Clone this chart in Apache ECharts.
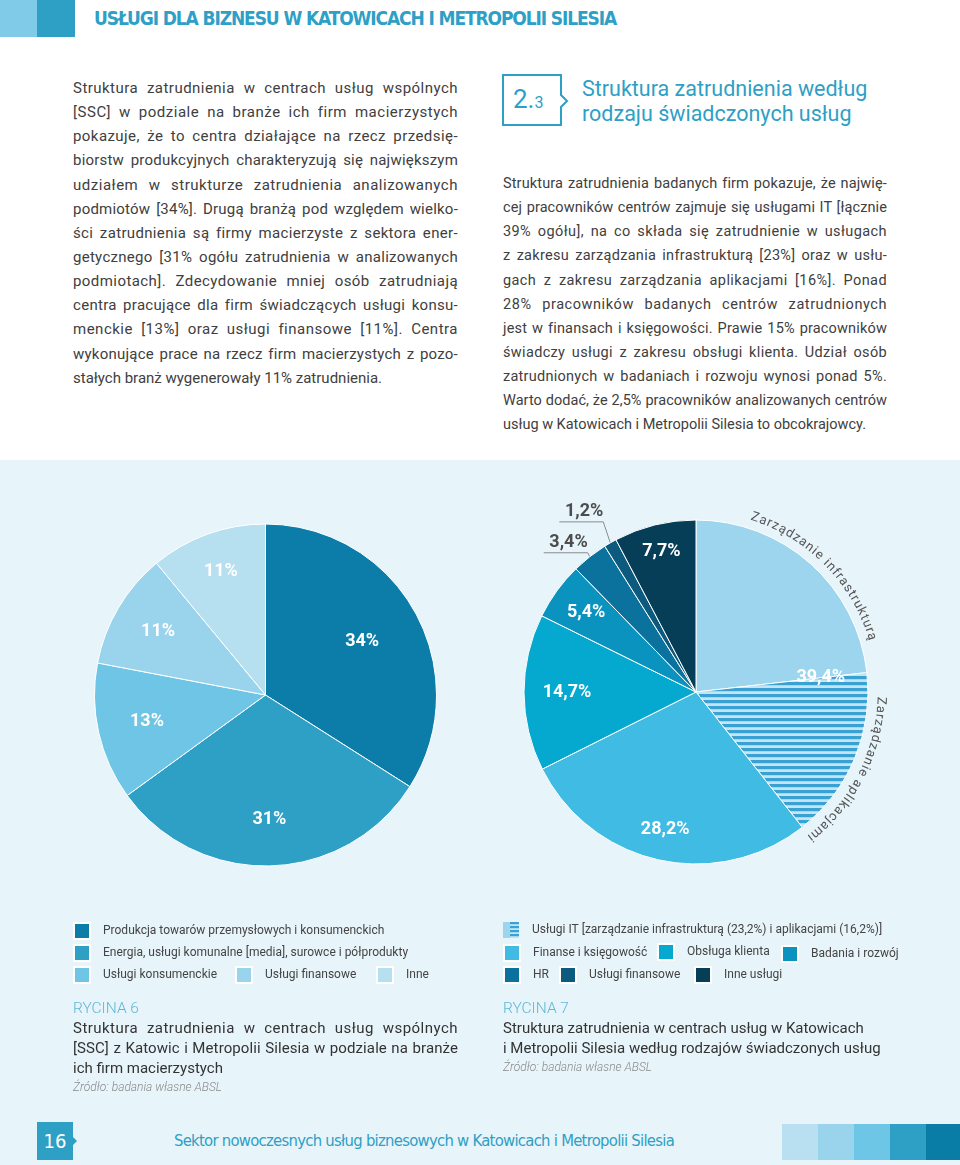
<!DOCTYPE html>
<html><head><meta charset="utf-8">
<script src="https://cdn.jsdelivr.net/npm/echarts@6/dist/echarts.min.js"></script>
<style>
html,body{margin:0;padding:0}
body{width:960px;height:1165px;position:relative;background:#fff;font-family:Roboto,sans-serif;overflow:hidden;color:#404040}
.abs{position:absolute}
#band{left:0;top:460px;width:960px;height:705px;background:#e7f4fa}
.jl{white-space:nowrap;text-align:left}
.para div{height:24.15px;line-height:24.15px}
.cap div{height:20px;line-height:20px}
</style></head>
<body>
<div id="band" class="abs"></div>
<!-- header -->
<div class="abs" style="left:0;top:0;width:37px;height:37px;background:#7fcbe8"></div>
<div class="abs" style="left:37px;top:0;width:38px;height:37px;background:#2e9fc5"></div>
<div id="hdr" class="abs" style="left:94px;top:7px;font:bold 19px 'Liberation Sans Narrow','DejaVu Sans Condensed',sans-serif;color:#2e9fc6;white-space:nowrap;line-height:22px" data-w="522">USŁUGI DLA BIZNESU W KATOWICACH I METROPOLII SILESIA</div>

<!-- left paragraph -->
<div class="abs para" style="left:73px;top:76px;width:385px;font-size:15px;">
<div class="jl">Struktura zatrudnienia w centrach usług wspólnych</div>
<div class="jl">[SSC] w podziale na branże ich firm macierzystych</div>
<div class="jl">pokazuje, że to centra działające na rzecz przedsię-</div>
<div class="jl">biorstw produkcyjnych charakteryzują się największym</div>
<div class="jl">udziałem w strukturze zatrudnienia analizowanych</div>
<div class="jl">podmiotów [34%]. Drugą branżą pod względem wielko-</div>
<div class="jl">ści zatrudnienia są firmy macierzyste z sektora ener-</div>
<div class="jl">getycznego [31% ogółu zatrudnienia w analizowanych</div>
<div class="jl">podmiotach]. Zdecydowanie mniej osób zatrudniają</div>
<div class="jl">centra pracujące dla firm świadczących usługi konsu-</div>
<div class="jl">menckie [13%] oraz usługi finansowe [11%]. Centra</div>
<div class="jl">wykonujące prace na rzecz firm macierzystych z pozo-</div>
<div class="jl last">stałych branż wygenerowały 11% zatrudnienia.</div>
</div>

<!-- right heading -->
<svg class="abs" style="left:500px;top:72px" width="75" height="58">
<polygon points="3,3 61,3 61,23 67,29 61,35 61,53 3,53" fill="none" stroke="#2e9fc5" stroke-width="2"/>
</svg>
<div class="abs" style="left:513px;top:84px;color:#2e9fc5;white-space:nowrap;line-height:30px"><span style="font-size:26px">2.</span><span style="font-size:16px">3</span></div>
<div class="abs" style="left:582px;top:77px;color:#2e9fc5;font-size:21.5px;line-height:24.5px;white-space:nowrap">Struktura zatrudnienia według<br>rodzaju świadczonych usług</div>

<!-- right paragraph -->
<div class="abs para" style="left:503px;top:172px;width:384px;font-size:14.5px;">
<div class="jl">Struktura zatrudnienia badanych firm pokazuje, że najwię-</div>
<div class="jl">cej pracowników centrów zajmuje się usługami IT [łącznie</div>
<div class="jl">39% ogółu], na co składa się zatrudnienie w usługach</div>
<div class="jl">z zakresu zarządzania infrastrukturą [23%] oraz w usłu-</div>
<div class="jl">gach z zakresu zarządzania aplikacjami [16%]. Ponad</div>
<div class="jl">28% pracowników badanych centrów zatrudnionych</div>
<div class="jl">jest w finansach i księgowości. Prawie 15% pracowników</div>
<div class="jl">świadczy usługi z zakresu obsługi klienta. Udział osób</div>
<div class="jl">zatrudnionych w badaniach i rozwoju wynosi ponad 5%.</div>
<div class="jl">Warto dodać, że 2,5% pracowników analizowanych centrów</div>
<div class="jl last">usług w Katowicach i Metropolii Silesia to obcokrajowcy.</div>
</div>

<div id="chartL" class="abs" style="left:0;top:460px;width:480px;height:640px"></div>
<div id="chartR" class="abs" style="left:480px;top:460px;width:480px;height:640px"></div>

<!-- captions -->
<div class="abs" style="left:73px;top:998px;color:#5db8d8;font-size:15.5px;font-weight:300;line-height:20px">RYCINA 6</div>
<div class="abs cap" style="left:73px;top:1018px;width:385px;font-size:15px;color:#333">
<div class="jl">Struktura zatrudnienia w centrach usług wspólnych</div>
<div class="jl">[SSC] z Katowic i Metropolii Silesia w podziale na branże</div>
<div class="jl last">ich firm macierzystych</div>
</div>
<div class="abs" style="left:73px;top:1079px;color:#8a8a8a;font-size:12px;font-style:italic;font-weight:300;line-height:16px">Źródło: badania własne ABSL</div>

<div class="abs" style="left:503px;top:998px;color:#5db8d8;font-size:15.5px;font-weight:300;line-height:20px">RYCINA 7</div>
<div class="abs" style="left:503px;top:1018px;font-size:15px;color:#333;line-height:20px;white-space:nowrap">Struktura zatrudnienia w centrach usług w Katowicach<br>i Metropolii Silesia według rodzajów świadczonych usług</div>
<div class="abs" style="left:503px;top:1059px;color:#8a8a8a;font-size:12px;font-style:italic;font-weight:300;line-height:16px">Źródło: badania własne ABSL</div>

<!-- footer -->
<svg class="abs" style="left:37px;top:1122px" width="44" height="40">
<polygon points="0,0 36,0 36,15 40,19 36,23 36,38 0,38" fill="#2e9fc5"/>
</svg>
<div class="abs" style="left:37px;top:1128px;width:36px;text-align:center;color:#fff;font:20px 'Liberation Sans Narrow','DejaVu Sans Condensed',sans-serif;line-height:26px">16</div>
<div id="ftr" class="abs" style="left:174px;top:1130px;color:#2e9fc5;font:16.5px 'Liberation Sans Narrow','DejaVu Sans Condensed',sans-serif;white-space:nowrap;line-height:22px" data-w="500">Sektor nowoczesnych usług biznesowych w Katowicach i Metropolii Silesia</div>
<div class="abs" style="left:782px;top:1124px;width:36px;height:36px;background:#b8e0f0"></div>
<div class="abs" style="left:818px;top:1124px;width:36px;height:36px;background:#9ad4ec"></div>
<div class="abs" style="left:854px;top:1124px;width:36px;height:36px;background:#6ec6e6"></div>
<div class="abs" style="left:890px;top:1124px;width:36px;height:36px;background:#2e9fc5"></div>
<div class="abs" style="left:926px;top:1124px;width:34px;height:36px;background:#0a7da6"></div>

<script>
// ---------------- DATA ----------------
const namesL = ['Produkcja towarów przemysłowych i konsumenckich', 'Energia, usługi komunalne [media], surowce i półprodukty', 'Usługi konsumenckie', 'Usługi finansowe', 'Inne'];
const valuesL = [34, 31, 13, 11, 11];

const namesR = ['Zarządzanie infrastrukturą', 'Zarządzanie aplikacjami', 'Finanse i księgowość', 'Obsługa klienta', 'Badania i rozwój', 'HR', 'Usługi finansowe', 'Inne usługi'];
const valuesR = [23.2, 16.2, 28.2, 14.7, 5.4, 3.4, 1.2, 7.7];
const itLegendLabel = 'Usługi IT';

// ---------------- STYLE ----------------
const colorsL = ['#0b7da8', '#2e9fc5', '#6fc5e5', '#9ad3ec', '#b6dff0'];
const colorsR = ['#9dd5ee', null, '#40bbe4', '#05a8cf', '#0b93bf', '#0a729c', '#0c5b7f', '#063d57'];

function fmt(v){ return String(v).replace('.', ','); }

// text fitting
function fitLines(){
  document.querySelectorAll('.jl').forEach(el=>{
    const W = el.parentNode.clientWidth;
    const sp = document.createElement('span');
    sp.textContent = el.textContent; sp.style.whiteSpace = 'nowrap';
    el.textContent = ''; el.appendChild(sp);
    const w = sp.getBoundingClientRect().width;
    const n = sp.textContent.length;
    if (w > W) { el.style.letterSpacing = ((W - w) / n) + 'px'; }
    else if (!el.classList.contains('last')) {
      const ls = Math.min(0.5 * (W - w) / n, 0.9);
      el.style.letterSpacing = ls + 'px';
      el.style.textAlign = 'justify'; el.style.textAlignLast = 'justify'; el.style.whiteSpace = 'normal';
    }
  });
  ['hdr','ftr'].forEach(id=>{
    const el = document.getElementById(id);
    const W = +el.dataset.w;
    const w = el.getBoundingClientRect().width;
    el.style.letterSpacing = ((W - w) / el.textContent.length) + 'px';
  });
}
fitLines();

// ---------------- LEFT PIE ----------------
const cxL = 265.5, cyL = 235, rL = 171;
const kL = [0.645, 0.73, 0.71, 0.73, 0.77];
function cumAngles(vals){ const s = vals.reduce((a,b)=>a+b,0); const c=[0]; vals.forEach(v=>c.push(c[c.length-1] + v / s * 2 * Math.PI)); return c; }
const cumL = cumAngles(valuesL);

const chartL = echarts.init(document.getElementById('chartL'), null, {renderer:'canvas'});
function legendItem(name, left, top, extra){
  return Object.assign({
    data:[name], left:left, top:top, padding:0, itemGap:0, itemWidth:16, itemHeight:16,
    icon:'rect', selectedMode:false,
    textStyle:{fontFamily:'Roboto', fontSize:12, color:'#444', padding:[0,0,0,8]}
  }, extra || {});
}
chartL.setOption({
  animation:false,
  legend:[
    legendItem(namesL[0], 73, 462),
    legendItem(namesL[1], 73, 484),
    legendItem(namesL[2], 73, 506),
    legendItem(namesL[3], 235, 506),
    legendItem(namesL[4], 376, 506)
  ],
  series:[{
    type:'pie', center:[cxL, cyL], radius:[0, rL], startAngle:90, clockwise:true,
    silent:true,
    itemStyle:{borderColor:'#ffffff', borderWidth:1},
    label:{show:true, position:'inside', color:'#fff', fontFamily:'Roboto', fontWeight:'bold', fontSize:18,
      formatter:p=>fmt(p.value)+'%'},
    labelLine:{show:false},
    labelLayout:function(p){
      const i = p.dataIndex; const a = (cumL[i]+cumL[i+1])/2; const k = kL[i];
      return {x: cxL + k*rL*Math.sin(a), y: cyL - k*rL*Math.cos(a), align:'center', verticalAlign:'middle'};
    },
    data: namesL.map((n,i)=>({name:n, value:valuesL[i], itemStyle:{color:colorsL[i]}}))
  }]
});

// ---------------- RIGHT PIE ----------------
const cxR = 216, cyR = 232, rR = 172;
const kR = [0, 0.73, 0.82, 0.75, 0.79, 0, 0, 0.84];
const cumR = cumAngles(valuesR);

// stripe pattern for "Zarządzanie aplikacjami"
const pc = document.createElement('canvas'); pc.width = 8; pc.height = 6;
const pctx = pc.getContext('2d');
pctx.fillStyle = '#c2e5f4'; pctx.fillRect(0,0,8,6);
pctx.fillStyle = '#3aa2d3'; pctx.fillRect(0,0,8,3.2);
// legend icon for IT (plain + striped)
const ic = document.createElement('canvas'); ic.width = 16; ic.height = 16;
const ictx = ic.getContext('2d');
ictx.fillStyle = '#9dd5ee'; ictx.fillRect(0,0,7,16);
ictx.fillStyle = '#c2e5f4'; ictx.fillRect(7,0,9,16);
ictx.fillStyle = '#3aa2d3'; for (let y=0;y<16;y+=4) ictx.fillRect(7,y,9,2.2);

const chartR = echarts.init(document.getElementById('chartR'), null, {renderer:'canvas'});

function arcText(str, startDeg, R, font, color, spacing){
  const ctx = document.createElement('canvas').getContext('2d'); ctx.font = font;
  const els = []; let s = startDeg*Math.PI/180*R;
  for (const ch of str){
    const w = ctx.measureText(ch).width;
    const mid = (s + w/2)/R;
    els.push({type:'text', x: cxR + R*Math.sin(mid), y: cyR - R*Math.cos(mid), rotation: -mid, silent:true,
      style:{text:ch, font:font, fill:color, align:'center', verticalAlign:'middle', textAlign:'center', textVerticalAlign:'middle'}});
    s += w + spacing;
  }
  return els;
}

const dataR = namesR.map((n,i)=>{
  const d = {name:n, value:valuesR[i], itemStyle:{color: i===1 ? {image:pc, repeat:'repeat'} : colorsR[i]}};
  if (i === 0) d.label = {show:false};
  if (i === 5 || i === 6) {
    d.label = {show:true, position:'outside', color:'#4d4d4d'};
    d.labelLine = {show:true, length:10, length2:40, smooth:false, lineStyle:{color:'#8c8c8c', width:1}};
  }
  return d;
});

chartR.setOption({
  animation:false,
  legend:[
    legendItem(namesR[0], 23, 462, {icon:'image://'+ic.toDataURL(), formatter:()=> itLegendLabel + ' [zarządzanie infrastrukturą (' + fmt(valuesR[0]) + '%) i aplikacjami (' + fmt(valuesR[1]) + '%)]'}),
    legendItem(namesR[2], 23, 484),
    legendItem(namesR[3], 177, 483),
    legendItem(namesR[4], 301, 485),
    legendItem(namesR[5], 23, 506),
    legendItem(namesR[6], 79, 506),
    legendItem(namesR[7], 214, 506)
  ],
  graphic: arcText('Zarządzanie infrastrukturą', 17.5, 184, '13px Roboto', '#555', 1.1)
           .concat(arcText('Zarządzanie aplikacjami', 91.5, 185, '13px Roboto', '#555', 1.1)),
  series:[{
    type:'pie', center:[cxR, cyR], radius:[0, rR], startAngle:90, clockwise:true,
    silent:true,
    itemStyle:{borderColor:'#ffffff', borderWidth:1},
    label:{show:true, position:'inside', color:'#fff', fontFamily:'Roboto', fontWeight:'bold', fontSize:18,
      formatter:p=> p.dataIndex===1 ? fmt(Math.round((valuesR[0]+valuesR[1])*10)/10)+'%' : fmt(p.value)+'%'},
    labelLine:{show:false},
    labelLayout:function(p){
      const i = p.dataIndex;
      if (i === 5 || i === 6) {
        const a = (cumR[i]+cumR[i+1])/2;
        const ex = cxR + rR*Math.sin(a), ey = cyR - rR*Math.cos(a);
        const p1 = i===5 ? [ex-2, ey-4] : [ex-7, ey-21];
        const p2 = [p1[0]-44, p1[1]];
        return {x:p1[0], y:p1[1]-1, align:'right', verticalAlign:'bottom', labelLinePoints:[[ex,ey], p1, p2]};
      }
      const a = i===1 ? cumR[1] : (cumR[i]+cumR[i+1])/2;
      const k = kR[i];
      return {x: cxR + k*rR*Math.sin(a), y: cyR - k*rR*Math.cos(a), align:'center', verticalAlign:'middle'};
    },
    data: dataR
  }]
});
</script>
</body></html>
